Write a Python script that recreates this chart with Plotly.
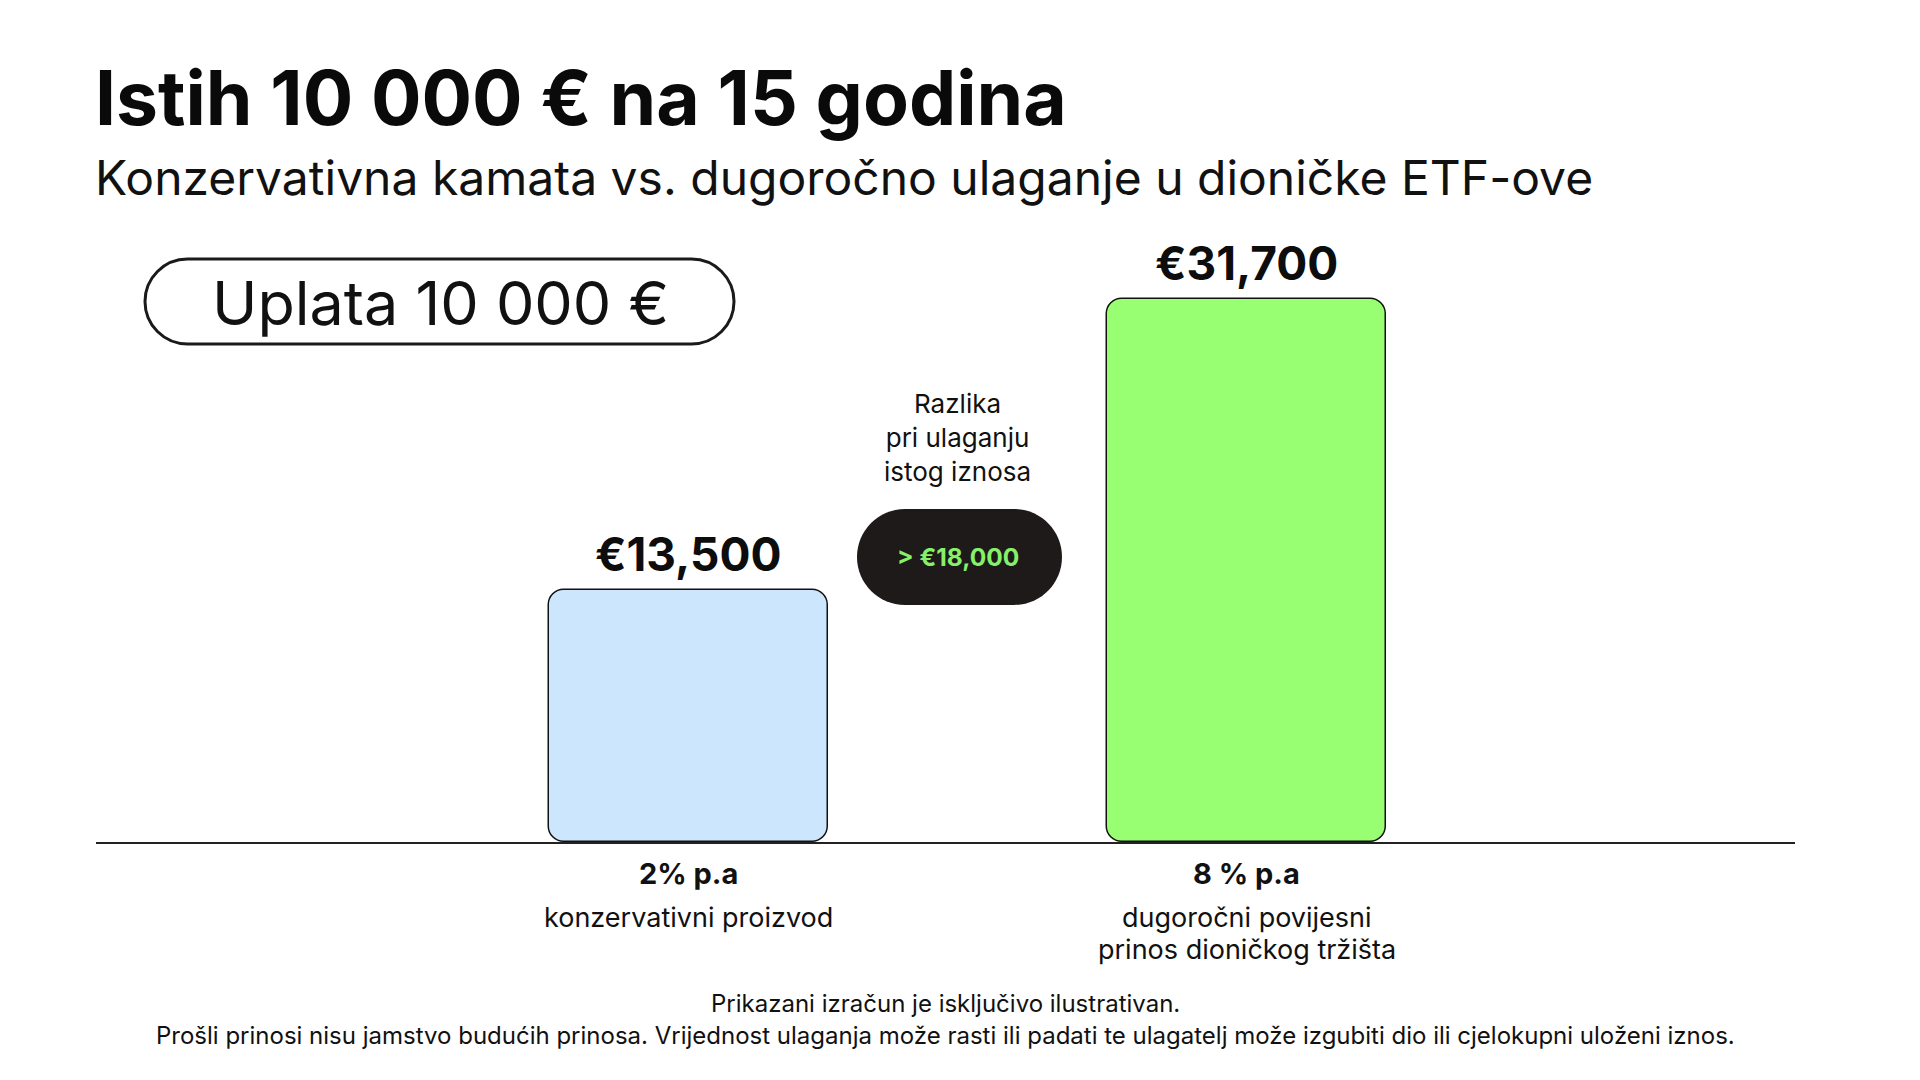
import plotly.graph_objects as go

# ---- data ----
categories = ["2% p.a", "8 % p.a"]
values = [13500, 31700]
value_labels = ["€13,500", "€31,700"]
rate_labels = ["2% p.a", "8 % p.a"]
desc_labels = [["konzervativni proizvod"], ["dugoročni povijesni", "prinos dioničkog tržišta"]]
bar_colors = ["#CCE6FD", "#97FF71"]
title = "Istih 10 000 € na 15 godina"
subtitle = "Konzervativna kamata vs. dugoročno ulaganje u dioničke ETF-ove"
deposit_text = "Uplata 10 000 €"
diff_note = "Razlika<br>pri ulaganju<br>istog iznosa"
diff_text = "> €18,000"
footer_lines = ["Prikazani izračun je isključivo ilustrativan.",
                "Prošli prinosi nisu jamstvo budućih prinosa. Vrijednost ulaganja može rasti ili padati te ulagatelj može izgubiti dio ili cjelokupni uloženi iznos."]

# ---- layout geometry (screen pixels; page body adds an 8px offset) ----
OFF = 8
W, H = 1904, 1064
L, R, T, B = 96 - OFF, 1795 - OFF, 250 - OFF, 842 - OFF
Y_BASE, Y_TOP = -2260, 34770
FONT = "Inter"

def px(x):
    return (x - OFF - L) / (R - L)

def py(y):
    return (B - (y - OFF)) / (B - T)

def rounded_path(x0, y0, x1, y1, r):
    k = 0.5523 * r
    def P(x, y):
        return f"{px(x):.5f},{py(y):.5f}"
    d = f"M {P(x0 + r, y0)} L {P(x1 - r, y0)} "
    d += f"C {P(x1 - r + k, y0)} {P(x1, y0 + r - k)} {P(x1, y0 + r)} "
    d += f"L {P(x1, y1 - r)} "
    d += f"C {P(x1, y1 - r + k)} {P(x1 - r + k, y1)} {P(x1 - r, y1)} "
    d += f"L {P(x0 + r, y1)} "
    d += f"C {P(x0 + r - k, y1)} {P(x0, y1 - r + k)} {P(x0, y1 - r)} "
    d += f"L {P(x0, y0 + r)} "
    d += f"C {P(x0, y0 + r - k)} {P(x0 + r - k, y0)} {P(x0 + r, y0)} Z"
    return d

xs = list(range(len(categories)))

fig = go.Figure()
fig.add_trace(go.Bar(
    x=xs,
    y=[v - Y_BASE for v in values],
    base=Y_BASE,
    width=0.5,
    marker=dict(color=bar_colors, line=dict(color="#111111", width=1.5), cornerradius=16),
    hoverinfo="skip",
    showlegend=False,
))

annotations = []
for i, (v, lab) in enumerate(zip(values, value_labels)):
    annotations.append(dict(x=i, y=v, xref="x", yref="y", text=lab, showarrow=False,
                            yanchor="middle", yshift=36,
                            font=dict(family=FONT, size=46, color="#0d0d0d", weight=700)))
for i, (rl, dl) in enumerate(zip(rate_labels, desc_labels)):
    annotations.append(dict(x=i, y=Y_BASE, xref="x", yref="y", text=rl, showarrow=False,
                            yanchor="middle", yshift=-31,
                            font=dict(family=FONT, size=29, color="#111111", weight=700)))
    for j, line in enumerate(dl):
        annotations.append(dict(x=i, y=Y_BASE, xref="x", yref="y", text=line, showarrow=False,
                                yanchor="middle", yshift=-75 - 32 * j,
                                font=dict(family=FONT, size=27, color="#111111")))

annotations.append(dict(x=px(93), y=py(98), xref="paper", yref="paper", text=title, showarrow=False,
                        xanchor="left", yanchor="middle",
                        font=dict(family=FONT, size=75, color="#0a0a0a", weight=700)))
annotations.append(dict(x=px(93), y=py(177), xref="paper", yref="paper", text=subtitle, showarrow=False,
                        xanchor="left", yanchor="middle",
                        font=dict(family=FONT, size=48, color="#111111")))
annotations.append(dict(x=px(440), y=py(303), xref="paper", yref="paper", text=deposit_text, showarrow=False,
                        xanchor="center", yanchor="middle",
                        font=dict(family=FONT, size=61, color="#111111")))
annotations.append(dict(x=px(958), y=py(437), xref="paper", yref="paper", text=diff_note, showarrow=False,
                        xanchor="center", yanchor="middle",
                        font=dict(family=FONT, size=26, color="#111111")))
annotations.append(dict(x=px(958), y=py(557), xref="paper", yref="paper", text=diff_text, showarrow=False,
                        xanchor="center", yanchor="middle",
                        font=dict(family=FONT, size=24.5, color="#86F06A", weight=700)))
annotations.append(dict(x=px(945), y=py(1003), xref="paper", yref="paper", text=footer_lines[0], showarrow=False,
                        xanchor="center", yanchor="middle",
                        font=dict(family=FONT, size=24, color="#111111")))
annotations.append(dict(x=px(946), y=py(1035), xref="paper", yref="paper", text=footer_lines[1], showarrow=False,
                        xanchor="center", yanchor="middle",
                        font=dict(family=FONT, size=24, color="#111111")))

shapes = [
    dict(type="path", xref="paper", yref="paper", path=rounded_path(145, 259, 734, 344, 42.5),
         line=dict(color="#1a1a1a", width=3), fillcolor="white", layer="below"),
    dict(type="path", xref="paper", yref="paper", path=rounded_path(857, 509, 1062, 605, 48),
         line=dict(color="#1E1A19", width=0), fillcolor="#1E1A19", layer="above"),
]

fig.update_layout(
    width=W, height=H,
    margin=dict(l=L, r=W - R, t=T, b=H - B),
    paper_bgcolor="white", plot_bgcolor="white",
    xaxis=dict(range=[-(688.5 - OFF - L) / 558, 1 + (R - (1246.5 - OFF)) / 558], showgrid=False, zeroline=False,
               showticklabels=False, ticks="", showline=True, linecolor="#222222", linewidth=2),
    yaxis=dict(range=[Y_BASE, Y_TOP], showgrid=False, zeroline=False, showticklabels=False,
               ticks="", showline=False),
    annotations=annotations,
    shapes=shapes,
    bargap=0,
)

fig.write_html("out.html")
